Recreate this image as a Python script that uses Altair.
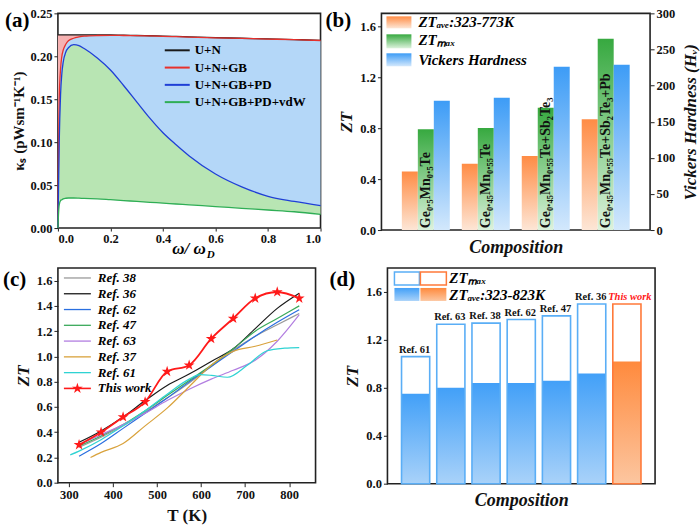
import altair as alt
import pandas as pd

FONT = "Liberation Serif"
ONE = pd.DataFrame({"o": [0]})

# ---------------- (a) data ----------------
omega = [0, 0.002, 0.005, 0.01, 0.015, 0.02, 0.03, 0.04, 0.06, 0.08, 0.1, 0.15, 0.2,
         0.25, 0.3, 0.35, 0.4, 0.45, 0.5, 0.6, 0.7, 0.8, 0.9, 1.0]
k_un = [0.225, 0.225, 0.225, 0.225, 0.225, 0.225, 0.225, 0.225, 0.225, 0.225, 0.225, 0.2249, 0.2248,
        0.2245, 0.2242, 0.2239, 0.2235, 0.2231, 0.2226, 0.2217, 0.2210, 0.2203, 0.2195, 0.2186]
k_gb = [0, 0.08, 0.15, 0.185, 0.2, 0.207, 0.214, 0.218, 0.221, 0.2225, 0.2235, 0.2242, 0.2244,
        0.2242, 0.224, 0.2237, 0.2233, 0.2229, 0.2224, 0.2215, 0.2208, 0.2201, 0.2193, 0.2184]
k_pd = [0, 0.04, 0.10, 0.155, 0.18, 0.193, 0.205, 0.210, 0.2135, 0.2125, 0.209, 0.198, 0.184,
        0.166, 0.147, 0.128, 0.111, 0.097, 0.084, 0.063, 0.048, 0.037, 0.031, 0.026]
k_vdw = [0, 0.015, 0.027, 0.032, 0.033, 0.034, 0.0347, 0.035, 0.035, 0.0348, 0.0345, 0.034, 0.033,
         0.032, 0.031, 0.030, 0.029, 0.028, 0.027, 0.025, 0.023, 0.021, 0.019, 0.016]
a_series = ["U+N", "U+N+GB", "U+N+GB+PD", "U+N+GB+PD+vdW"]
a_colors = ["#1a1a1a", "#e8302c", "#1f3fd6", "#2fae55"]

# ---------------- (b) data ----------------
comp_b = ["Ge₀.₅Mn₀.₅Te", "Ge₀.₄₅Mn₀.₅₅Te", "Ge₀.₄₅Mn₀.₅₅Te+Sb₂Te₃", "Ge₀.₄₅Mn₀.₅₅Te+Sb₂Te₃+Pb"]
zt_ave_b = [0.46, 0.52, 0.58, 0.87]
zt_max_b = [0.79, 0.80, 0.96, 1.50]
hv_b = [179, 183, 226, 229]

# ---------------- (c) data ----------------
c_labels = ["Ref. 38", "Ref. 36", "Ref. 62", "Ref. 47", "Ref. 63", "Ref. 37", "Ref. 61", "This work"]
c_colors = ["#9a9a9a", "#1a1a1a", "#2a6fe0", "#3aa95a", "#b27ee0", "#d9a23c", "#2fd3d3", "#ff1a1a"]
T_std = [323, 373, 423, 473, 523, 573, 623, 673, 723, 773, 823]
zt_ref38 = [0.28, 0.36, 0.45, 0.56, 0.67, 0.79, 0.92, 1.05, 1.16, 1.25, 1.34]
zt_ref36 = [0.32, 0.41, 0.52, 0.65, 0.77, 0.86, 0.96, 1.06, 1.22, 1.38, 1.50]
zt_ref62 = [0.21, 0.31, 0.43, 0.55, 0.67, 0.80, 0.92, 1.04, 1.16, 1.27, 1.37]
zt_ref47 = [0.29, 0.37, 0.46, 0.57, 0.69, 0.81, 0.93, 1.06, 1.20, 1.30, 1.40]
zt_ref63 = [0.30, 0.38, 0.46, 0.55, 0.65, 0.74, 0.82, 0.89, 0.97, 1.12, 1.33]
T_ref37 = [349, 373, 423, 473, 523, 573, 623, 673, 723, 773]
zt_ref37 = [0.20, 0.24, 0.31, 0.45, 0.59, 0.76, 0.93, 1.04, 1.08, 1.13]
T_ref61 = [303, 323, 373, 423, 473, 523, 573, 598, 623, 660, 705, 750, 790, 823]
zt_ref61 = [0.22, 0.25, 0.34, 0.45, 0.57, 0.70, 0.82, 0.855, 0.85, 0.835, 0.93, 1.045, 1.065, 1.07]
zt_this = [0.30, 0.40, 0.52, 0.64, 0.88, 0.93, 1.14, 1.30, 1.46, 1.51, 1.46]

# ---------------- (d) data ----------------
refs_d = ["Ref. 61", "Ref. 63", "Ref. 38", "Ref. 62", "Ref. 47", "Ref. 36", "This work"]
zt_max_d = [1.06, 1.33, 1.34, 1.37, 1.40, 1.50, 1.50]
zt_ave_d = [0.75, 0.80, 0.84, 0.84, 0.86, 0.92, 1.02]


def grad(top, bottom):
    return {"gradient": "linear", "x1": 0, "x2": 0, "y1": 1, "y2": 0,
            "stops": [{"offset": 0, "color": bottom}, {"offset": 1, "color": top}]}


def one():
    return alt.Chart(ONE)


def txt(s, x, y, size=13, style="normal", color="black", align="left", baseline="middle"):
    return one().mark_text(text=s, font=FONT, fontSize=size, fontWeight="bold", fontStyle=style,
                           color=color, align=align, baseline=baseline).encode(
        x=alt.value(x), y=alt.value(y))


def hline(x0, x1, y, color, w=1.5):
    return one().mark_rule(color=color, strokeWidth=w).encode(
        x=alt.value(x0), x2=alt.value(x1), y=alt.value(y))


def box(x0, x1, y0, y1, fill, stroke=None, sw=1.5):
    kw = {"fill": fill}
    if stroke:
        kw.update(stroke=stroke, strokeWidth=sw)
    return one().mark_rect(**kw).encode(
        x=alt.value(x0), x2=alt.value(x1), y=alt.value(y0), y2=alt.value(y1))


# ================= panel (a) =================
WA, HA = 263, 215
dfa = pd.DataFrame({"w": omega, "un": k_un, "gb": k_gb, "pd": k_pd, "vdw": k_vdw})
xA = alt.X("w:Q", scale=alt.Scale(domain=[0, 1], nice=False),
           axis=alt.Axis(values=[0, 0.2, 0.4, 0.6, 0.8, 1.0], format=".1f", title=None,
                         tickSize=3, labelPadding=1))
yA_scale = alt.Scale(domain=[0, 0.25], nice=False)
yA_axis = alt.Axis(values=[0, 0.05, 0.1, 0.15, 0.2, 0.25], format=".2f",
                   title="κₛ (pWsm⁻¹K⁻¹)", titleFontSize=15)
baseA = alt.Chart(dfa)
area_pink = baseA.mark_area(color="#f6b2b2", interpolate="monotone").encode(
    x=xA, y=alt.Y("un:Q", scale=yA_scale, axis=yA_axis), y2="gb:Q")
area_blue = baseA.mark_area(color="#b4d7f8", interpolate="monotone").encode(
    x=xA, y=alt.Y("gb:Q", scale=yA_scale, axis=yA_axis), y2="pd:Q")
area_green = baseA.mark_area(color="#b8e5b3", interpolate="monotone").encode(
    x=xA, y=alt.Y("pd:Q", scale=yA_scale, axis=yA_axis), y2="vdw:Q")
lines_a = [
    baseA.mark_line(interpolate="monotone", strokeWidth=1.3, color=col).encode(
        x=xA, y=alt.Y(f"{fld}:Q", scale=yA_scale, axis=yA_axis))
    for fld, col in zip(["un", "gb", "pd", "vdw"], a_colors)
]
leg_a = []
for i, (lab, col) in enumerate(zip(a_series, a_colors)):
    yy = 37 + i * 17.3
    leg_a += [hline(107, 132, yy, col, 2), txt(lab, 137, yy, size=13)]
panel_a = alt.layer(
    area_pink, area_blue, area_green, *lines_a, *leg_a,
    txt("ω/ ω", 148, 241, size=17, style="italic", align="right", baseline="alphabetic"),
    txt("D", 149, 245, size=11, style="italic", baseline="alphabetic"),
    txt("(a)", -53, 14, size=21, baseline="alphabetic"),
).properties(width=WA, height=HA)

# ================= panel (b) =================
WB, HB = 269, 217
dfb = pd.DataFrame({"comp": comp_b, "ave": zt_ave_b, "mx": zt_max_b, "hv": hv_b})
xB = alt.X("comp:N", sort=comp_b, scale=alt.Scale(domain=comp_b, paddingInner=0.2, paddingOuter=0.34),
           axis=alt.Axis(labels=False, ticks=False, title="Composition", titleFontSize=18,
                         titleFontStyle="italic", titlePadding=8))
offB = alt.XOffset("k:N", scale=alt.Scale(domain=["ave", "max", "hv"]))
yB_scale = alt.Scale(domain=[0, 1.7], nice=False)
yB_axis = alt.Axis(values=[0, 0.4, 0.8, 1.2, 1.6], format=".1f", title="ZT",
                   titleFontStyle="italic", titleFontSize=17)
bars_ave = alt.Chart(dfb).transform_calculate(k="'ave'").mark_bar(
    color=grad("#ff8c45", "#fde6d6")).encode(
    x=xB, xOffset=offB, y=alt.Y("ave:Q", scale=yB_scale, axis=yB_axis))
bars_max = alt.Chart(dfb).transform_calculate(k="'max'").mark_bar(
    color=grad("#37a940", "#dcf2dc")).encode(
    x=xB, xOffset=offB, y=alt.Y("mx:Q", scale=yB_scale, axis=yB_axis))
labels_b = alt.Chart(dfb).transform_calculate(k="'max'").mark_text(
    angle=270, align="left", baseline="middle", font=FONT, fontSize=14, fontWeight="bold",
    color="#111").encode(
    x=xB, xOffset=offB, y=alt.Y(datum=0.015, type="quantitative", scale=yB_scale, axis=yB_axis),
    text="comp:N")
bars_hv = alt.Chart(dfb).transform_calculate(k="'hv'").mark_bar(
    color=grad("#3d9cf6", "#d3e8fc")).encode(
    x=xB, xOffset=offB,
    y=alt.Y("hv:Q", scale=alt.Scale(domain=[0, 300], nice=False),
            axis=alt.Axis(orient="right", values=[0, 50, 100, 150, 200, 250, 300],
                          title="Vickers Hardness (Hᵥ)", titleFontStyle="italic",
                          titleFontSize=17, titleAngle=270, titleBaseline="top", titlePadding=8)))
left_b = alt.layer(bars_ave, bars_max, labels_b)
panel_b = alt.layer(
    left_b, bars_hv,
    box(5, 30, 3, 15, grad("#ff8c45", "#fde6d6")),
    box(5, 30, 21, 35, grad("#37a940", "#dcf2dc")),
    box(5, 30, 40, 53, grad("#3d9cf6", "#d3e8fc")),
    txt("ZTₐᵥₑ:323-773K", 37, 9, size=15, style="italic"),
    txt("ZTₘₐₓ", 37, 27, size=15, style="italic"),
    txt("Vickers Hardness", 37, 46.5, size=15, style="italic"),
    txt("(b)", -56, 14, size=21, baseline="alphabetic"),
).resolve_scale(y="independent").properties(width=WB, height=HB)

# ================= panel (c) =================
WC, HC = 258, 215
c_T = [T_std, T_std, T_std, T_std, T_std, T_ref37, T_ref61, T_std]
c_Z = [zt_ref38, zt_ref36, zt_ref62, zt_ref47, zt_ref63, zt_ref37, zt_ref61, zt_this]
xC = alt.X("T:Q", scale=alt.Scale(domain=[275, 860], nice=False),
           axis=alt.Axis(values=[300, 400, 500, 600, 700, 800], title="T (K)", titleFontSize=17,
                         titlePadding=6))
yC_scale = alt.Scale(domain=[0, 1.7], nice=False)
yC_axis = alt.Axis(values=[0, 0.2, 0.4, 0.6, 0.8, 1.0, 1.2, 1.4, 1.6], format=".1f", title="ZT",
                   titleFontStyle="italic", titleFontSize=17)
STAR = ("M0,-1L0.2245,-0.309L0.9511,-0.309L0.3633,0.118L0.5878,0.809L0,0.382L-0.5878,0.809"
        "L-0.3633,0.118L-0.9511,-0.309L-0.2245,-0.309Z")
lines_c = []
for t, z, lab, col in zip(c_T, c_Z, c_labels, c_colors):
    dfl = pd.DataFrame({"T": t, "ZT": z})
    lines_c.append(alt.Chart(dfl).mark_line(
        interpolate="monotone", strokeWidth=1.8 if lab == "This work" else 1.2, color=col).encode(
        x=xC, y=alt.Y("ZT:Q", scale=yC_scale, axis=yC_axis)))
stars = alt.Chart(pd.DataFrame({"T": T_std, "ZT": zt_this})).mark_point(
    shape=STAR, filled=True, size=130, opacity=1, color="#ff1a1a").encode(
    x=xC, y=alt.Y("ZT:Q", scale=yC_scale, axis=yC_axis))
leg_c = []
for i, (lab, col) in enumerate(zip(c_labels, c_colors)):
    yy = 10 + i * 15.8
    leg_c += [hline(6, 33, yy, col, 1.6 if lab == "This work" else 1.3),
              txt(lab, 40, yy, size=13, style="italic")]
leg_c.append(one().mark_point(shape=STAR, filled=True, size=130, color="#ff1a1a", opacity=1).encode(
    x=alt.value(19.5), y=alt.value(10 + 7 * 15.8)))
panel_c = alt.layer(
    *lines_c, stars, *leg_c,
    txt("(c)", -55, 18, size=21, baseline="alphabetic"),
).properties(width=WC, height=HC)

# ================= panel (d) =================
WD, HD = 268, 216
dfd = pd.DataFrame({"ref": refs_d, "mx": zt_max_d, "ave": zt_ave_d})
xD = alt.X("ref:N", sort=refs_d, scale=alt.Scale(domain=refs_d, paddingInner=0.2, paddingOuter=0.4),
           axis=alt.Axis(labels=False, ticks=False, title="Composition", titleFontSize=18,
                         titleFontStyle="italic", titlePadding=8))
yD_scale = alt.Scale(domain=[0, 1.8], nice=False)
yD_axis = alt.Axis(values=[0, 0.4, 0.8, 1.2, 1.6], format=".1f", title="ZT",
                   titleFontStyle="italic", titleFontSize=17)
is_this = alt.datum.ref == "This work"
not_this = alt.datum.ref != "This work"
ave_blue = alt.Chart(dfd).transform_filter(not_this).mark_bar(color=grad("#42a0f8", "#a9d2f9")).encode(
    x=xD, y=alt.Y("ave:Q", scale=yD_scale, axis=yD_axis))
ave_orange = alt.Chart(dfd).transform_filter(is_this).mark_bar(color=grad("#ff8a3d", "#fcc6a0")).encode(
    x=xD, y=alt.Y("ave:Q", scale=yD_scale, axis=yD_axis))
max_blue = alt.Chart(dfd).transform_filter(not_this).mark_bar(
    fill="white", fillOpacity=0, stroke="#5aaef6", strokeWidth=1.6).encode(
    x=xD, y=alt.Y("mx:Q", scale=yD_scale, axis=yD_axis))
max_orange = alt.Chart(dfd).transform_filter(is_this).mark_bar(
    fill="white", fillOpacity=0, stroke="#ff7a3a", strokeWidth=1.6).encode(
    x=xD, y=alt.Y("mx:Q", scale=yD_scale, axis=yD_axis))
lab_refs = alt.Chart(dfd).transform_filter(not_this).mark_text(
    baseline="bottom", dy=-2, dx=-1, font=FONT, fontSize=10.5, fontWeight="bold", color="#111").encode(
    x=xD, y=alt.Y("mx:Q", scale=yD_scale, axis=yD_axis), text="ref:N")
lab_this = alt.Chart(dfd).transform_filter(is_this).mark_text(
    baseline="bottom", dy=-2, dx=3, font=FONT, fontSize=10.5, fontWeight="bold", fontStyle="italic",
    color="#ff1a1a").encode(
    x=xD, y=alt.Y("mx:Q", scale=yD_scale, axis=yD_axis), text="ref:N")
panel_d = alt.layer(
    ave_blue, ave_orange, max_blue, max_orange, lab_refs, lab_this,
    box(7, 32, 4, 17, "white", "#5aaef6"),
    box(33, 59, 4, 17, "white", "#ff7a3a"),
    box(7, 32, 20, 33, grad("#42a0f8", "#a9d2f9")),
    box(33, 59, 20, 33, grad("#ff8a3d", "#fcc6a0")),
    txt("ZTₘₐₓ", 62, 10, size=15, style="italic"),
    txt("ZTₐᵥₑ:323-823K", 62, 27, size=15, style="italic"),
    txt("(d)", -58, 18, size=21, baseline="alphabetic"),
).properties(width=WD, height=HD)

chart = alt.vconcat(
    alt.hconcat(panel_a, panel_b, spacing=0),
    alt.hconcat(panel_c, panel_d, spacing=12),
    spacing=6,
).properties(
    padding={"left": 2, "top": 6, "right": 0, "bottom": 0},
    background="white",
).configure_view(
    stroke="#222", strokeWidth=1.6
).configure_axis(
    labelFont=FONT, labelFontSize=12.5, labelFontWeight="bold", labelColor="#111",
    titleFont=FONT, titleFontWeight="bold", titleColor="#111",
    tickColor="#222", tickSize=4, tickWidth=1, domain=False, grid=False,
    labelPadding=2, titlePadding=4,
)

chart.save("out.html", embed_options={"renderer": "svg", "actions": False})
